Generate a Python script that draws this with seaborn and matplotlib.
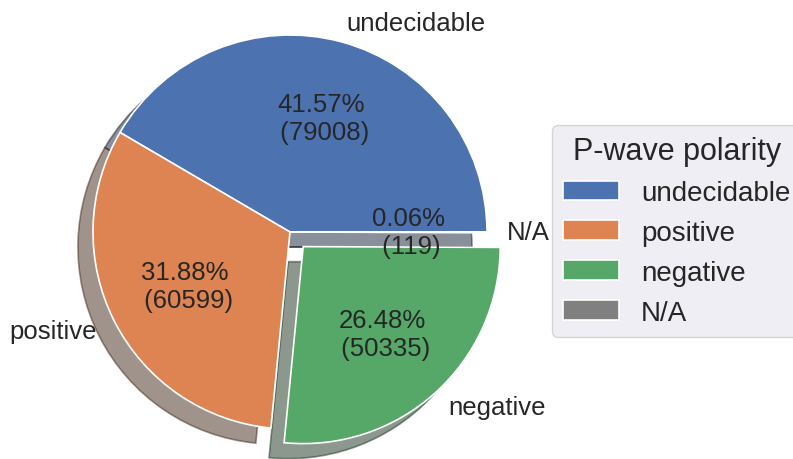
import matplotlib
matplotlib.use("Agg")
import matplotlib.pyplot as plt
import seaborn as sns

# P-wave first-motion polarity counts
categories = ["undecidable", "positive", "negative", "N/A"]
counts = [79008, 60599, 50335, 119]
explode = [0, 0, 0.1, 0]

sns.set_theme(style="darkgrid")
plt.rcParams["font.family"] = ["Liberation Sans", "DejaVu Sans"]

deep = sns.color_palette("deep")
colors = [deep[0], deep[1], deep[2], "#808080"]

total = sum(counts)


def fmt(pct):
    val = int(round(pct * total / 100.0))
    return f"{pct:.2f}%\n ({val})"


fig = plt.figure(figsize=(7.93, 4.60), dpi=100)
W, H = 793, 460
cx, cy, r = 290, 233, 197
side = 2.5 * r
ax = fig.add_axes([(cx - side / 2) / W, (H - cy - side / 2) / H, side / W, side / H])

wedges, texts, autotexts = ax.pie(
    counts,
    labels=categories,
    colors=colors,
    explode=explode,
    autopct=fmt,
    startangle=0,
    shadow={"ox": -0.055, "oy": -0.055},
    wedgeprops={"edgecolor": "white", "linewidth": 1.2},
    textprops={"fontsize": 18.5},
)
ax.set_aspect("equal")

leg = fig.legend(
    wedges,
    categories,
    title="P-wave polarity",
    loc="upper left",
    bbox_to_anchor=(552 / W, 1 - 126 / H),
    borderaxespad=0,
    fontsize=20,
    title_fontsize=22,
    frameon=True,
)
leg.get_frame().set_facecolor("#EAEAF2")
leg.get_frame().set_edgecolor("0.8")

fig.savefig("out.png", dpi=100)
